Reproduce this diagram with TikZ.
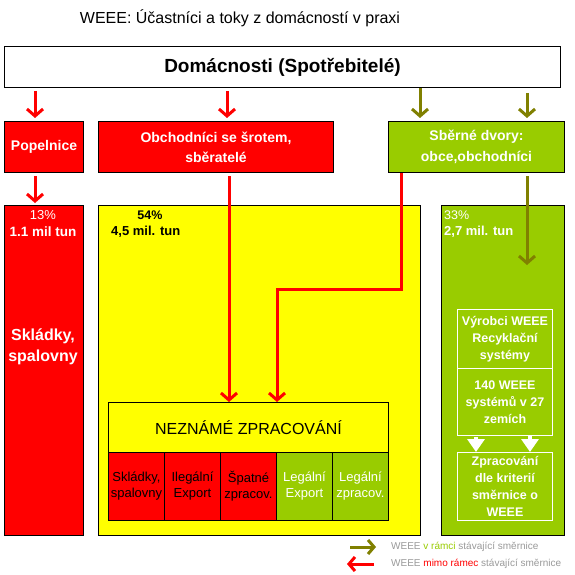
\documentclass[tikz,border=0pt]{standalone}
\usepackage{fontspec}
\setmainfont{Liberation Sans}
\usetikzlibrary{arrows.meta,calc}
\definecolor{wred}{HTML}{FF0000}
\definecolor{wyel}{HTML}{FFFF00}
\definecolor{wgrn}{HTML}{99CC00}
\definecolor{wolv}{HTML}{808000}
\definecolor{wgray}{HTML}{9A9A9A}
\newcommand\fsz[2]{\fontsize{#1pt}{#2pt}\selectfont}
\begin{document}
\begin{tikzpicture}[x=1pt,y=-1pt,
  box/.style={draw=black,line width=1pt,inner sep=0pt,anchor=north west,align=center},
  wbox/.style={draw=white,line width=1pt,inner sep=0pt,anchor=north west,align=center,text=white,font=\bfseries\fsz{12.5}{17}},
  cell/.style={draw=black,line width=1pt,inner sep=0pt,anchor=north west,align=center,minimum width=56pt,minimum height=68pt,font=\fsz{13}{16}},
  txt/.style={inner sep=0pt},
  redarr/.style={draw=wred,line width=3pt,-{Straight Barb[length=7pt,width=16pt]}},
  olvarr/.style={draw=wolv,line width=3pt,-{Straight Barb[length=7pt,width=16pt]}},
  whtri/.style={draw=white,line width=4pt,-{Triangle[length=13pt,width=17pt]}}
]
\fill[white] (0,0) rectangle (575,575);
\useasboundingbox (0,0) rectangle (575,575);

% title
\node[txt] (title) at (240,18) {\fsz{16}{19}WEEE: Účastníci a toky z domácností v praxi};

% households
\node[box,minimum width=556pt,minimum height=41pt,font=\bfseries\fsz{19}{22}] (dom) at (4,46) {Domácnosti (Spotřebitelé)};

% second row
\node[box,fill=wred,text=white,minimum width=79pt,minimum height=51pt,font=\bfseries\fsz{14}{20}] (pop) at (4,121) {Popelnice};
\node[box,fill=wred,text=white,minimum width=235pt,minimum height=51pt,font=\bfseries\fsz{14}{20}] (obch) at (98,121) {Obchodníci se šrotem,\\sběratelé};
\node[box,fill=wgrn,text=white,minimum width=176pt,minimum height=51pt,font=\bfseries\fsz{14}{21}] (sbe) at (388,121) {Sběrné dvory:\\obce,obchodníci};

% big boxes
\node[box,fill=wred,minimum width=79pt,minimum height=330pt] (skl) at (4,205) {};
\node[box,fill=wyel,minimum width=322pt,minimum height=330pt] (yel) at (98,205) {};
\node[box,fill=wgrn,minimum width=123pt,minimum height=330pt] (grn) at (441,205) {};

% texts in big boxes
\node[txt,text=white,font=\fsz{13}{15}] (p13) at (43,215) {13\%};
\node[txt,text=white,font=\bfseries\fsz{13.5}{15}] (t13) at (43,232) {1.1 mil tun};
\node[txt,text=white,font=\bfseries\fsz{16}{21},align=center] (sk) at (43,347) {Skládky,\\spalovny};
\node[txt,font=\bfseries\fsz{12.5}{15}] (p54) at (150,215) {54\%};
\node[txt,anchor=west,font=\bfseries\fsz{13}{15}] (t54) at (111,232) {4,5 mil. tun};
\node[txt,anchor=west,text=white,font=\fsz{12.5}{15}] (p33) at (444,215) {33\%};
\node[txt,anchor=west,text=white,font=\bfseries\fsz{13}{15}] (t33) at (444,232) {2,7 mil. tun};

% unknown processing
\node[box,fill=wyel,minimum width=280pt,minimum height=50pt,font=\fsz{16}{18}] (nez) at (108,402) {NEZNÁMÉ ZPRACOVÁNÍ};
\node[cell,fill=wred] (c1) at (108,452) {Skládky,\\spalovny};
\node[cell,fill=wred] (c2) at (164,452) {Ilegální\\Export};
\node[cell,fill=wred] (c3) at (220,452) {Špatné\\zpracov.};
\node[cell,fill=wgrn,text=white] (c4) at (276,452) {Legální\\Export};
\node[cell,fill=wgrn,text=white,minimum width=56pt] (c5) at (332,452) {Legální\\zpracov.};

% green sub boxes
\node[wbox,minimum width=95pt,minimum height=59pt] (vyr) at (457,309) {Výrobci WEEE\\Recyklační\\systémy};
\node[wbox,minimum width=95pt,minimum height=67pt] (sys) at (457,368) {140 WEEE\\systémů v 27\\zemích};
\node[wbox,minimum width=95pt,minimum height=68pt] (zpr) at (457,452) {Zpracování\\dle kriterií\\směrnice o\\WEEE};

% arrow x positions
\coordinate (xa) at (35,0);
\coordinate (xb) at (227,0);
\coordinate (xc) at (420,0);
\coordinate (xd) at (527,0);
\coordinate (xe) at (229,0);
\coordinate (xf) at (401,0);
\coordinate (xg) at (277,289);
\coordinate (xh) at (476,0);
\coordinate (xi) at (530,0);

% arrows from households
\draw[redarr,shorten <=3pt,shorten >=3pt] (xa |- dom.south) -- (xa |- pop.north);
\draw[redarr,shorten <=3pt,shorten >=3pt] (xb |- dom.south) -- (xb |- obch.north);
\draw[olvarr,shorten >=3pt] (xc |- dom.south) -- (xc |- sbe.north);
\draw[olvarr,shorten <=5pt,shorten >=3pt] (xd |- dom.south) -- (xd |- sbe.north);

% second level arrows
\draw[redarr,shorten <=3pt,shorten >=2pt] (xa |- pop.south) -- (xa |- skl.north);
\draw[redarr,shorten <=3pt] (xe |- obch.south) -- (xe |- nez.north);
\draw[redarr] (xf |- sbe.south) -- (xf |- xg) -- (xg) -- (xg |- nez.north);
\draw[olvarr,shorten <=3pt] (xd |- sbe.south) -- (527,265);

% white triangles
\draw[whtri] (xh |- sys.south) ++(0,1) -- (xh |- zpr.north);
\draw[whtri] (xi |- sys.south) -- (xi |- zpr.north);

% legend
\coordinate (l1a) at (350,547);
\coordinate (l1b) at (376,547);
\coordinate (l2a) at (374,564);
\coordinate (l2b) at (347,564);
\draw[olvarr,-{Straight Barb[length=6pt,width=14pt]}] (l1a) -- (l1b);
\draw[redarr,-{Straight Barb[length=6pt,width=14pt]}] (l2a) -- (l2b);
\node[txt,anchor=west,text=wgray,font=\fsz{10}{12}] (leg1) at (391,547) {WEEE \textcolor{wgrn}{v rámci} stávající směrnice};
\node[txt,anchor=west,text=wgray,font=\fsz{10}{12}] (leg2) at (391,564) {WEEE \textcolor{wred}{mimo rámec} stávající směrnice};
\end{tikzpicture}
\end{document}
